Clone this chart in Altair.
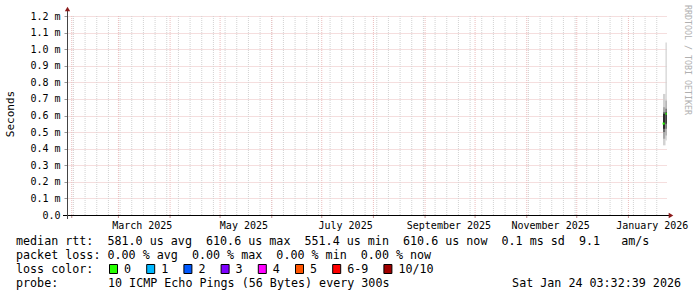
import altair as alt
import pandas as pd

# ---------------- data ----------------
time_start = "2025-01-29T03:32:39Z"
time_end = "2026-01-24T03:32:39Z"

# smoke columns (time span of each drawn column)
smoke_t0 = ["2026-01-21T18:00:00Z", "2026-01-23T06:00:00Z"]
smoke_t1 = ["2026-01-23T06:00:00Z", "2026-01-24T00:00:00Z"]
outer_lo = [0.42e-3, 0.45e-3]
outer_hi = [0.73e-3, 1.04e-3]
mid_lo = [0.46e-3, 0.48e-3]
mid_hi = [0.65e-3, 0.69e-3]
inner_lo = [0.50e-3, 0.52e-3]
inner_hi = [0.62e-3, 0.64e-3]
core_lo = [0.52e-3, 0.55e-3]
core_hi = [0.61e-3, 0.62e-3]
median_t0 = ["2026-01-21T12:00:00Z", "2026-01-23T06:00:00Z"]
median_t1 = ["2026-01-22T18:00:00Z", "2026-01-24T00:00:00Z"]
median_rtt = [0.5514e-3, 0.6106e-3]

y_ticks = [0.0, 0.1e-3, 0.2e-3, 0.3e-3, 0.4e-3, 0.5e-3, 0.6e-3,
           0.7e-3, 0.8e-3, 0.9e-3, 1.0e-3, 1.1e-3, 1.2e-3]
month_starts = ["2025-02-01", "2025-03-01", "2025-04-01", "2025-05-01",
                "2025-06-01", "2025-07-01", "2025-08-01", "2025-09-01",
                "2025-10-01", "2025-11-01", "2025-12-01", "2026-01-01"]
label_dates = ["2025-03-15", "2025-05-15", "2025-07-15",
               "2025-09-15", "2025-11-15", "2026-01-15"]

legend_rtt = ("median rtt:  581.0 us avg  610.6 us max  551.4 us min  "
              "610.6 us now  0.1 ms sd  9.1   am/s")
legend_loss = "packet loss: 0.00 % avg  0.00 % max  0.00 % min  0.00 % now"
loss_title = "loss color:"
loss_labels = ["0", "1", "2", "3", "4", "5", "6-9", "10/10"]
loss_colors = ["#26ff00", "#00b8ff", "#0059ff", "#7e00ff",
               "#ff00ff", "#ff5500", "#ff0000", "#a00000"]
probe_title = "probe:"
probe_text = "10 ICMP Echo Pings (56 Bytes) every 300s"
date_text = "Sat Jan 24 03:32:39 2026"
y_title = "Seconds"
watermark = "RRDTOOL / TOBI OETIKER"

# ---------------- helpers ----------------
def iso(d):
    return pd.Timestamp(d, tz="UTC").strftime("%Y-%m-%dT%H:%M:%SZ")

def ms(d):
    return int(pd.Timestamp(d, tz="UTC").value // 10**6)

W, H = 600, 199
OX, OY = 67, 16  # plot origin in page pixels
FONT = "DejaVu Sans Mono"
RED_GRID = "#ebbcbc"
GRAY_GRID = "#d2d2d2"

xscale = alt.Scale(type="utc", domain=[ms(time_start), ms(time_end)])
yscale = alt.Scale(domain=[0, 1.2e-3], nice=False, zero=True)

week_lines = [iso(d) for d in pd.date_range("2025-02-02", "2026-01-18", freq="W-SUN")]

weeks_df = pd.DataFrame({"t": week_lines})
months_df = pd.DataFrame({"t": [iso(d) for d in month_starts]})

bands = ["outer", "mid", "inner", "core"]
band_colors = ["#d2d2d2", "#a9a9a9", "#6a6a6a", "#2a2a2a"]
rows = []
for i in range(len(smoke_t0)):
    for b, lo, hi in zip(bands, [outer_lo, mid_lo, inner_lo, core_lo],
                         [outer_hi, mid_hi, inner_hi, core_hi]):
        rows.append({"t0": smoke_t0[i], "t1": smoke_t1[i], "lo": lo[i], "hi": hi[i], "band": b})
smoke_df = pd.DataFrame(rows)
median_df = pd.DataFrame({"t0": median_t0, "t1": median_t1, "m": median_rtt})

one = alt.Data(values=[{}])

xaxis = alt.Axis(
    values=[ms(d) for d in label_dates],
    labelExpr="utcFormat(datum.value, '%B %Y')",
    grid=False, domain=False, ticks=False, title=None,
    labelFont=FONT, labelFontSize=10, labelColor="#000000",
    labelPadding=5, labelOverlap=False, labelFlush=False, labelBound=False,
)
yaxis = alt.Axis(
    values=y_ticks,
    labelExpr="datum.value == 0 ? '0.0' : format(datum.value * 1000, '.1f') + ' m'",
    grid=True, gridColor=RED_GRID, gridDash=[1, 1], gridWidth=1,
    domain=False, tickColor="#999999", tickSize=3, title=None,
    labelFont=FONT, labelFontSize=10, labelColor="#000000",
    labelPadding=4, labelFlush=False, labelOverlap=False,
)

def X(field):
    return alt.X(field, type="temporal", scale=xscale, axis=xaxis)

def Y(field):
    return alt.Y(field, type="quantitative", scale=yscale, axis=yaxis)

# ---------------- layers ----------------
week_rules = alt.Chart(weeks_df).mark_rule(
    color=GRAY_GRID, strokeDash=[1, 1], strokeWidth=1
).encode(x=X("t"), y=alt.value(0), y2=alt.value(H))

month_rules = alt.Chart(months_df).mark_rule(
    color=RED_GRID, strokeDash=[1, 1], strokeWidth=1
).encode(x=X("t"), y=alt.value(0), y2=alt.value(H))

month_ticks = alt.Chart(months_df).mark_rule(
    color="#c08c8c", strokeWidth=1
).encode(x=X("t"), y=alt.value(H), y2=alt.value(H + 3))

smoke = alt.Chart(smoke_df).mark_rect().encode(
    x=X("t0"),
    x2="t1:T",
    y=Y("lo"),
    y2="hi:Q",
    color=alt.Color("band:N", scale=alt.Scale(domain=bands, range=band_colors), legend=None),
)

median = alt.Chart(median_df).mark_rule(strokeWidth=2, color=loss_colors[0]).encode(
    x=X("t0"),
    x2="t1:T",
    y=Y("m"),
)

x_line = alt.Chart(one).mark_rule(color="#000000", strokeWidth=1).encode(
    x=alt.value(-4), x2=alt.value(W + 3), y=alt.value(H + 0.5))
y_line = alt.Chart(one).mark_rule(color="#444444", strokeWidth=1).encode(
    x=alt.value(0.5), y=alt.value(H + 4), y2=alt.value(-5))
x_arrow = alt.Chart(one).mark_point(
    shape="triangle-right", filled=True, color="#8b1a1a", size=28, opacity=1
).encode(x=alt.value(W + 4), y=alt.value(H + 0.5))
y_arrow = alt.Chart(one).mark_point(
    shape="triangle-up", filled=True, color="#8b1a1a", size=28, opacity=1
).encode(x=alt.value(0.5), y=alt.value(-7))

NBSP = "\u00a0"

def txt(s, px, py, size=11.7, align="left", angle=0, color="#000000"):
    return alt.Chart(one).mark_text(
        font=FONT, fontSize=size, align=align, baseline="middle",
        angle=angle, color=color
    ).encode(x=alt.value(px - OX), y=alt.value(py - OY),
             text=alt.value(s.replace(" ", NBSP)))

texts = [
    txt(legend_rtt, 16, 241),
    txt(legend_loss, 16, 255),
    txt(loss_title, 16, 269),
    txt(probe_title, 16, 283),
    txt(probe_text, 108, 283),
    txt(date_text, 681, 283, align="right"),
    txt(y_title, 11, 114, size=11, align="center", angle=270),
    txt(watermark, 687, 60, size=8.3, align="center", angle=90, color="#b0b0b0"),
]

boxes = []
for i, (lab, col) in enumerate(zip(loss_labels, loss_colors)):
    bx = 109 + i * 37.2 + (14 if i == 7 else 0)
    boxes.append(
        alt.Chart(one).mark_rect(fill=col, stroke="#000000", strokeWidth=1).encode(
            x=alt.value(bx - OX + 0.5), x2=alt.value(bx - OX + 8.5),
            y=alt.value(264.5 - OY), y2=alt.value(273.5 - OY))
    )
    texts.append(txt(lab, bx + 15, 269))

chart = alt.layer(
    week_rules, month_rules, smoke, median, month_ticks,
    x_line, y_line, x_arrow, y_arrow, *boxes, *texts
).properties(
    width=W, height=H,
    autosize=alt.AutoSizeParams(type="none"),
    padding={"left": OX, "top": OY, "right": 697 - OX - W, "bottom": 297 - OY - H},
    background="#ffffff",
).configure_view(stroke=None)

chart.save("out.html", embed_options={"renderer": "svg", "actions": False})
